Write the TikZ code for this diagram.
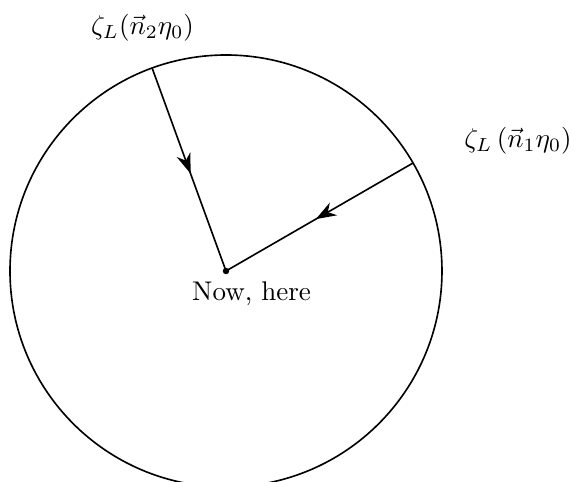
\documentclass[tikz,border=0pt]{standalone}
\usepackage{amsmath}
\usepackage{tikz}
\usetikzlibrary{arrows.meta,positioning,decorations.markings}
\tikzset{
  rim/.style={draw, line width=0.6pt},
  ray/.style={line width=0.6pt, postaction={decorate},
              decoration={markings, mark=at position 0.52 with {\arrow{Stealth[length=7.5pt,width=5.4pt,inset=2.4pt]}}}},
  here/.style={circle, fill, inner sep=0pt, minimum size=2.4pt},
  lbl/.style={inner sep=0pt}
}
\begin{document}
\begin{tikzpicture}[x=0.37pt, y=0.37pt]
\useasboundingbox (-226,-211) rectangle (347,271);
\node[here] (O) at (0,0) {};
\draw[rim] (O.center) circle[radius=216];
\coordinate (n2) at (110:216);
\coordinate (n1) at (30:216);
\draw[ray] (n2) -- (O.center);
\draw[ray] (n1) -- (O.center);
\node[lbl] (lab2) at (-83.5,243.5) {$\zeta_L(\vec{n}_2\eta_0)$};
\node[lbl] (lab1) at (292,130) {$\zeta_L\left(\vec{n}_1\eta_0\right)$};
\node[lbl, anchor=north west] (now) at (-34.3,-10.4) {Now, here};
\end{tikzpicture}
\end{document}
